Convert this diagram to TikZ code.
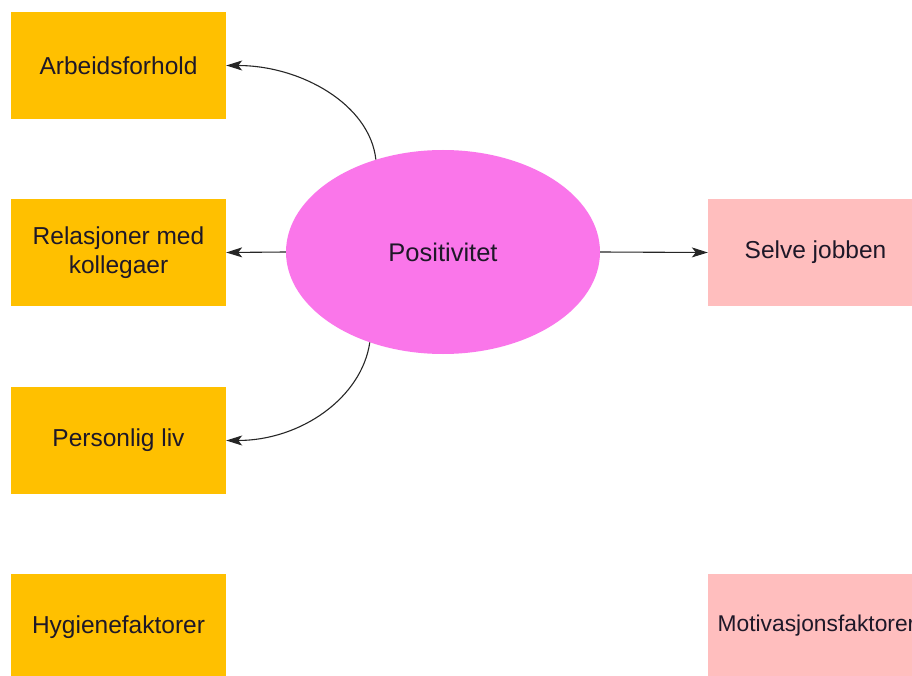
\documentclass[tikz,border=0pt]{standalone}
\usepackage{fontspec}
\setmainfont{Liberation Sans}
\usetikzlibrary{shapes.geometric,arrows.meta}
\definecolor{hyg}{RGB}{255,192,0}
\definecolor{mot}{RGB}{255,190,190}
\definecolor{elli}{RGB}{250,118,234}
\definecolor{txt}{RGB}{30,24,40}
\tikzset{
  hbox/.style={rectangle,fill=hyg,draw=none,minimum width=215pt,minimum height=107pt,inner sep=0pt,align=center,text=txt,font=\fontsize{24.5}{28.5}\selectfont},
  mbox/.style={rectangle,fill=mot,draw=none,minimum width=215pt,minimum height=107pt,inner sep=0pt,align=center,text=txt,font=\fontsize{24.5}{28.5}\selectfont},
  oval/.style={ellipse,fill=elli,draw=none,minimum width=314pt,minimum height=204pt,inner sep=0pt,text=txt,font=\fontsize{25.5}{29}\selectfont},
  conn/.style={draw=black!85,line width=1.1pt,-{Stealth[length=16pt,width=10pt,inset=4pt]}}
}
\begin{document}
\begin{tikzpicture}[x=1pt,y=-1pt]
\useasboundingbox (0,0) rectangle (912,676);
\clip (0,0) rectangle (912,676);
\fill[white] (0,0) rectangle (912,676);
\node[hbox] (arb) at (118.5,65.5) {Arbeidsforhold};
\node[hbox] (rel) at (118.5,252.5) {Relasjoner med\\kollegaer};
\node[hbox] (per) at (118.5,440.5) {Personlig liv};
\node[hbox] (hyg) at (118.5,627.5) {Hygienefaktorer};
\node[mbox] (sel) at (815.5,252.5) {Selve jobben};
\node[mbox] (mot) at (815.5,627.5) {};
\node[text=txt,font=\fontsize{22.8}{26}\selectfont,inner sep=0pt] (mottext) at (816.5,625.5) {Motivasjonsfaktorer};
\node[oval] (pos) at (443,252) {Positivitet};
\draw[conn] (pos.126) .. controls +(-6,-55) and +(75,0) .. (arb.east);
\draw[conn] (pos.west) -- (rel.east);
\draw[conn] (pos.231) .. controls +(-8,55) and +(75,0) .. (per.east);
\draw[conn] (pos.east) -- (sel.west);
\end{tikzpicture}
\end{document}
